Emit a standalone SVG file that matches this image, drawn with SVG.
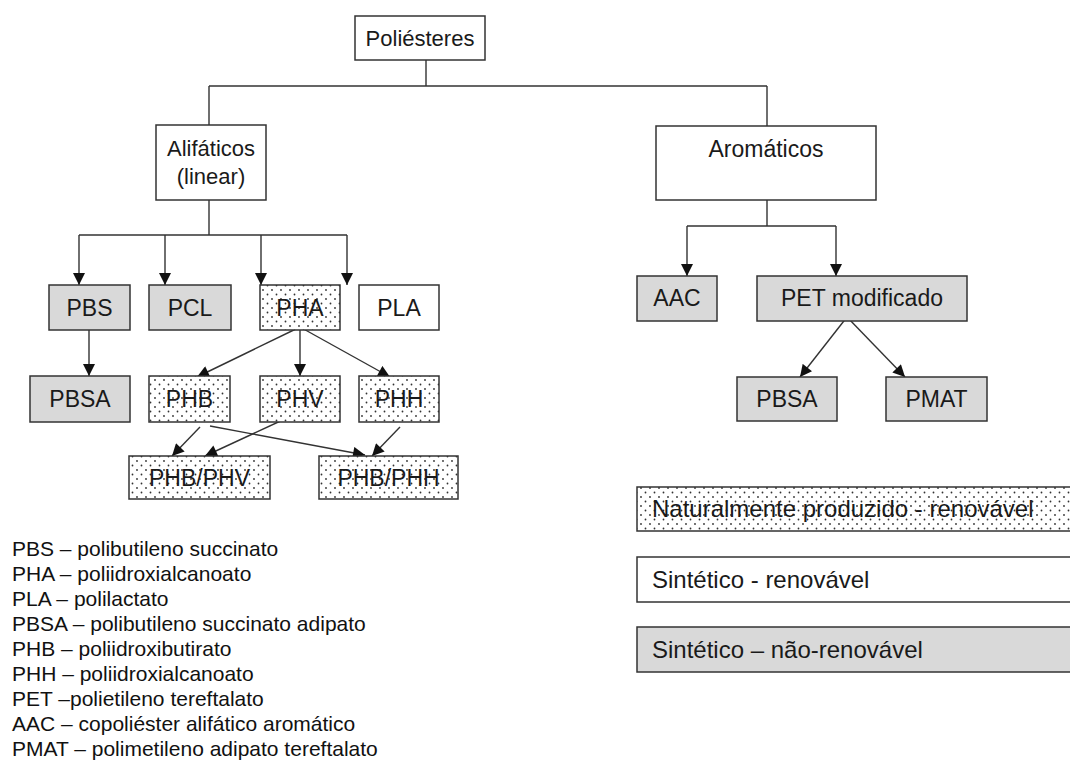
<svg xmlns="http://www.w3.org/2000/svg" width="1070" height="761" viewBox="0 0 1070 761">
<defs>
<pattern id="dots" width="9" height="9" patternUnits="userSpaceOnUse">
<rect width="9" height="9" fill="#ffffff"/>
<circle cx="2" cy="2" r="0.9" fill="#333"/>
<circle cx="6.5" cy="6.5" r="0.9" fill="#333"/>
</pattern>
<marker id="arr" viewBox="0 0 12 12" refX="12" refY="6" markerWidth="13" markerHeight="12" markerUnits="userSpaceOnUse" orient="auto">
<path d="M0,0 L12,6 L0,12 z" fill="#111"/>
</marker>
</defs>
<style>
.box{stroke:#333;stroke-width:1.5}
.w{fill:#fff}
.g{fill:#d9d9d9}
.d{fill:url(#dots)}
.t{font-family:"Liberation Sans",Arial,sans-serif;font-size:23px;fill:#1a1a1a;text-anchor:middle}
.lt{font-family:"Liberation Sans",Arial,sans-serif;font-size:24px;fill:#1a1a1a}
.ls{font-family:"Liberation Sans",Arial,sans-serif;font-size:21px;fill:#111}
.c{fill:none;stroke:#333;stroke-width:1.4}
.a{fill:none;stroke:#333;stroke-width:1.4;marker-end:url(#arr)}
</style>
<rect width="1070" height="761" fill="#fff"/>
<g id="connectors">
<path class="c" d="M426,60 V86 M209,86 H767 M209,86 V125 M767,86 V126"/>
<path class="c" d="M209,200 V235 M79,235 H347"/>
<path class="a" d="M79,235 V285"/>
<path class="a" d="M165,235 V285"/>
<path class="a" d="M261,235 V285"/>
<path class="a" d="M347,235 V285"/>
<path class="a" d="M89,330 V376"/>
<path class="a" d="M300,327 L197,377"/>
<path class="a" d="M300,330 V376"/>
<path class="a" d="M300,327 L390,377"/>
<path class="a" d="M200,427 L172,456"/>
<path class="a" d="M287,418 L205,456"/>
<path class="a" d="M210,426 L365,455"/>
<path class="a" d="M400,427 L372,456"/>
<path class="c" d="M767,200 V226 M687,226 H836"/>
<path class="a" d="M687,226 V276"/>
<path class="a" d="M836,226 V276"/>
<path class="a" d="M847,317 L800,377"/>
<path class="a" d="M847,317 L905,377"/>
</g>
<g id="n-poliesteres"><rect class="box w" x="355" y="16" width="130" height="44"/><text class="t" x="420" y="46" style="font-size:22px">Poliésteres</text></g>
<g id="n-alifaticos"><rect class="box w" x="156" y="125" width="110" height="75"/><text class="t" x="211" y="156" style="font-size:22px">Alifáticos</text><text class="t" x="211" y="184" style="font-size:22px">(linear)</text></g>
<g id="n-aromaticos"><rect class="box w" x="656" y="126" width="220" height="74"/><text class="t" x="766" y="157">Aromáticos</text></g>
<g id="n-pbs"><rect class="box g" x="49" y="285" width="81" height="45"/><text class="t" x="89.5" y="316">PBS</text></g>
<g id="n-pcl"><rect class="box g" x="149" y="285" width="82" height="45"/><text class="t" x="190" y="316">PCL</text></g>
<g id="n-pha"><rect class="box d" x="260" y="285" width="80" height="45"/><text class="t" x="300" y="316">PHA</text></g>
<g id="n-pla"><rect class="box w" x="359" y="285" width="80" height="45"/><text class="t" x="399" y="316">PLA</text></g>
<g id="n-pbsa1"><rect class="box g" x="30" y="376" width="100" height="46"/><text class="t" x="80" y="407">PBSA</text></g>
<g id="n-phb"><rect class="box d" x="149" y="376" width="81" height="46"/><text class="t" x="189.5" y="407">PHB</text></g>
<g id="n-phv"><rect class="box d" x="260" y="376" width="80" height="46"/><text class="t" x="300" y="407">PHV</text></g>
<g id="n-phh"><rect class="box d" x="359" y="376" width="80" height="46"/><text class="t" x="399" y="407">PHH</text></g>
<g id="n-phbphv"><rect class="box d" x="129" y="456" width="141" height="43"/><text class="t" x="199.5" y="486">PHB/PHV</text></g>
<g id="n-phbphh"><rect class="box d" x="319" y="456" width="139" height="43"/><text class="t" x="388.5" y="486">PHB/PHH</text></g>
<g id="n-aac"><rect class="box g" x="637" y="276" width="80" height="45"/><text class="t" x="677" y="306">AAC</text></g>
<g id="n-pet"><rect class="box g" x="757" y="276" width="210" height="45"/><text class="t" x="862" y="306">PET modificado</text></g>
<g id="n-pbsa2"><rect class="box g" x="737" y="377" width="100" height="44"/><text class="t" x="787" y="407">PBSA</text></g>
<g id="n-pmat"><rect class="box g" x="886" y="377" width="101" height="44"/><text class="t" x="936.5" y="407">PMAT</text></g>
<g id="legend-boxes">
<rect class="box d" x="637" y="487" width="440" height="44"/><text class="lt" x="652" y="517">Naturalmente produzido - renovável</text>
<rect class="box w" x="637" y="557" width="440" height="45"/><text class="lt" x="652" y="588">Sintético - renovável</text>
<rect class="box g" x="637" y="627" width="440" height="45"/><text class="lt" x="652" y="658">Sintético – não-renovável</text>
</g>
<g id="legend-list">
<text class="ls" x="12" y="556">PBS – polibutileno succinato</text>
<text class="ls" x="12" y="581">PHA – poliidroxialcanoato</text>
<text class="ls" x="12" y="606">PLA – polilactato</text>
<text class="ls" x="12" y="631">PBSA – polibutileno succinato adipato</text>
<text class="ls" x="12" y="656">PHB – poliidroxibutirato</text>
<text class="ls" x="12" y="681">PHH – poliidroxialcanoato</text>
<text class="ls" x="12" y="706">PET –polietileno tereftalato</text>
<text class="ls" x="12" y="731">AAC – copoliéster alifático aromático</text>
<text class="ls" x="12" y="756">PMAT – polimetileno adipato tereftalato</text>
</g>
</svg>
